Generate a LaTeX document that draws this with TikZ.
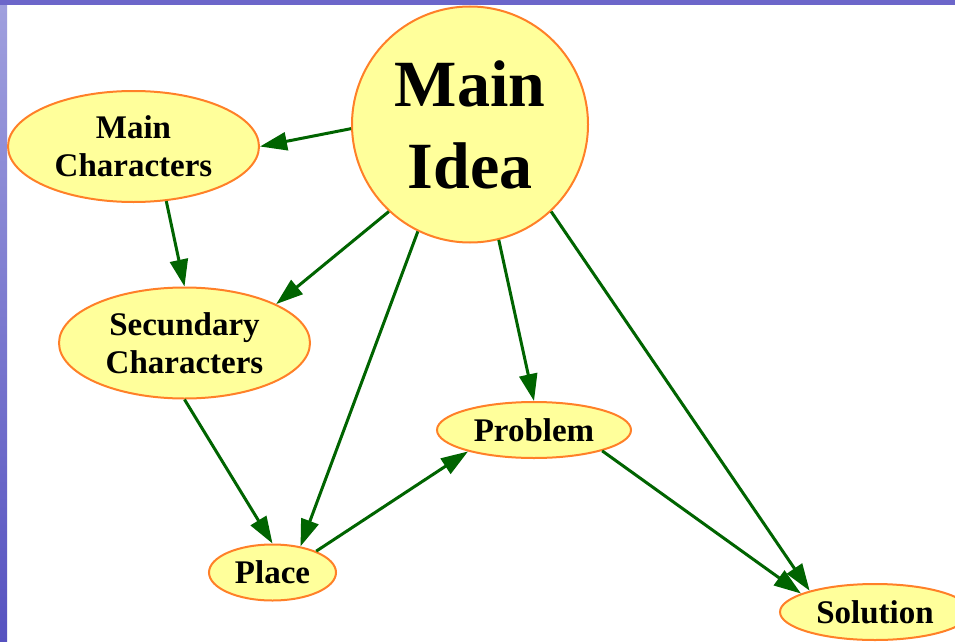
\documentclass[tikz,border=0pt]{standalone}
\usepackage{fontspec}
\setmainfont{Liberation Serif}
\usetikzlibrary{shapes.geometric,arrows.meta}
\definecolor{slidetop}{RGB}{108,102,202}
\definecolor{slidelight}{RGB}{160,160,222}
\definecolor{slidedark}{RGB}{86,82,192}
\definecolor{bubbleedge}{RGB}{255,128,40}
\definecolor{bubblefill}{RGB}{255,255,155}
\definecolor{linkgreen}{RGB}{0,100,0}
\begin{document}
\begin{tikzpicture}[x=1pt,y=-1pt,
  bubble/.style={ellipse,draw=bubbleedge,fill=bubblefill,line width=2pt,
    inner sep=0pt,align=center,font=\bfseries\fontsize{33}{38}\selectfont},
  bigbubble/.style={bubble,minimum width=251pt,minimum height=111pt},
  smallbubble/.style={bubble,minimum height=56pt},
  link/.style={draw=linkgreen,line width=3pt,
    -{Triangle[length=27pt,width=18pt]}}]
  % slide background
  \useasboundingbox (0,0) rectangle (955,642);
  \clip (0,0) rectangle (955,642);
  \fill [white] (0,0) rectangle (955,642);
  \shade [top color=slidelight,bottom color=slidedark] (0,0) rectangle (7,642);
  \fill [slidetop] (0,0) rectangle (955,5);
  % nodes
  \node [circle,draw=bubbleedge,fill=bubblefill,line width=2pt,inner sep=0pt,
         minimum size=236pt,align=center,
         font=\bfseries\fontsize{66}{82}\selectfont] (idea) at (470,124.5) {Main\\Idea};
  \node [bigbubble] (mainchar) at (133.5,146.5) {Main\\Characters};
  \node [bigbubble] (secchar) at (184.5,343) {Secundary\\Characters};
  \node [smallbubble,minimum width=127pt] (place) at (272.5,572.5) {Place};
  \node [smallbubble,minimum width=194pt] (problem) at (534,430) {Problem};
  \node [smallbubble,minimum width=190pt] (solution) at (875,612) {Solution};
  % links
  \draw [link] (idea.182) -- (mainchar.east);
  \draw [link] (mainchar.-59) -- (secchar.north);
  \draw [link] (idea.-133) -- (secchar.23);
  \draw [link] (idea.-116) -- (place.43);
  \draw [link] (secchar.south) -- (place.north);
  \draw [link] (place.26) -- (problem.198);
  \draw [link] (idea.-76) -- (problem.north);
  \draw [link] (idea.-47) -- (solution.162);
  \draw [link] (problem.-17) -- (solution.166);
\end{tikzpicture}
\end{document}
